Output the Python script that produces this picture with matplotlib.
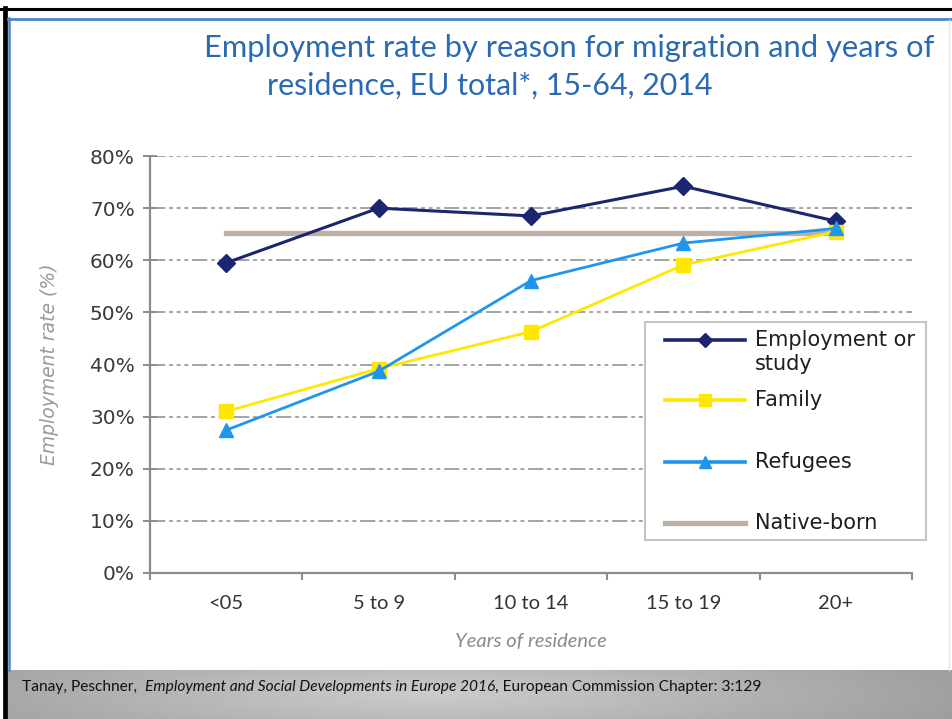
import numpy as np
import matplotlib
matplotlib.use("Agg")
import matplotlib.pyplot as plt
from matplotlib.lines import Line2D
from matplotlib.patches import Rectangle

# ---------------- data ----------------
categories = ["<05", "5 to 9", "10 to 14", "15 to 19", "20+"]
employment_or_study = [59.5, 70.0, 68.5, 74.2, 67.5]
family = [31.0, 39.2, 46.3, 59.1, 65.5]
refugees = [27.4, 38.7, 56.1, 63.3, 66.1]
native_born = [65.3, 65.3, 65.3, 65.3, 65.3]
y_ticks = [0, 10, 20, 30, 40, 50, 60, 70, 80]
y_tick_labels = ["0%", "10%", "20%", "30%", "40%", "50%", "60%", "70%", "80%"]
series_names = ["Employment or\nstudy", "Family", "Refugees", "Native-born"]

title_line1 = "Employment rate by reason for migration and years of"
title_line2 = "residence, EU total*, 15-64, 2014"
footer_parts = ["Tanay, Peschner,  ",
                "Employment and Social Developments in Europe 2016",
                ", European Commission Chapter: 3:129"]

# ---------------- layout ----------------
W, H = 952, 719
fig = plt.figure(figsize=(W / 100, H / 100), dpi=100)
fig.patch.set_facecolor("white")


def P(x, y):
    return (x / W, 1 - y / H)


# footer gradient band
band = fig.add_axes([7 / W, 0, (W - 7) / W, 49 / H])
gx = np.linspace(-1, 1, 400)
gy = np.linspace(-1, 1, 60)
GX, GY = np.meshgrid(gx, gy)
r = np.sqrt(((GX + 0.1) / 1.1) ** 2 + (GY / 2.5) ** 2)
vals = 0.80 - 0.17 * np.clip(r, 0, 1.2)
band.imshow(np.dstack([vals, vals, vals]), aspect="auto", extent=[0, 1, 0, 1],
            interpolation="bilinear")
band.set_xlim(0, 1)
band.set_ylim(0, 1)
band.axis("off")

# border lines
fig.add_artist(Line2D([0, 1], [1 - 9 / H, 1 - 9 / H], color="black", lw=2.2,
                      transform=fig.transFigure))
fig.add_artist(Line2D([5 / W, 5 / W], [0, 1 - 8 / H], color="black", lw=3.4,
                      transform=fig.transFigure))
fig.add_artist(Line2D([8 / W, 1], [1 - 18.5 / H, 1 - 18.5 / H], color="#4a86c8",
                      lw=2.0, transform=fig.transFigure))
fig.add_artist(Line2D([9 / W, 9 / W], [49 / H, 1 - 18 / H], color="#4a86c8",
                      lw=1.8, transform=fig.transFigure))
fig.add_artist(Line2D([949 / W, 949 / W], [49 / H, 1 - 20 / H], color="#e6e6e6",
                      lw=1.0, transform=fig.transFigure))

# main axes
ax = fig.add_axes([150 / W, (H - 573) / H, 762 / W, 417 / H])
x = np.arange(len(categories))

line_kw = dict(solid_joinstyle="round", clip_on=False)
ax.plot(x, native_born, color="#beafa5", lw=3.8, zorder=3, **line_kw)
ax.plot(x, employment_or_study, color="#1b2670", lw=2.2, marker="D", ms=9,
        zorder=4, **line_kw)
ax.plot(x, family, color="#ffe800", lw=2.0, marker="s", ms=10.5, zorder=5,
        **line_kw)
ax.plot(x, refugees, color="#1e96f0", lw=2.0, marker="^", ms=10.5, zorder=6,
        **line_kw)

ax.set_xlim(-0.5, len(categories) - 0.5)
ax.set_ylim(0, 80)
ax.set_yticks(y_ticks)
ax.set_yticklabels(y_tick_labels)
ax.set_xticks(x)
ax.set_xticklabels(categories)
ax.set_xticks(np.arange(-0.5, len(categories)), minor=True)

for v in y_ticks[1:]:
    ax.axhline(v, color="#8a8a8a", lw=1.1, dashes=(10, 2.5, 2.5, 2.5, 2.5, 2.5, 2.5, 2.5),
               zorder=1)

for s in ["top", "right"]:
    ax.spines[s].set_visible(False)
for s in ["left", "bottom"]:
    ax.spines[s].set_color("#8c8c8c")
    ax.spines[s].set_linewidth(1.6)

ax.tick_params(axis="y", which="major", direction="inout", length=10, width=1.4,
               color="#8c8c8c", pad=6, labelsize=14.5, labelcolor="#3a3a3a")
ax.tick_params(axis="x", which="major", length=0, pad=16, labelsize=14.5,
               labelcolor="#333333")
ax.tick_params(axis="x", which="minor", direction="out", length=5, width=1.5,
               color="#8c8c8c")
for t in ax.get_yticklabels():
    t.set_fontfamily("DejaVu Sans")
for t in ax.get_xticklabels():
    t.set_fontfamily("Lato")

ax.set_ylabel("Employment rate (%)", fontsize=13.5, style="italic",
              color="#9a9a9a", family="DejaVu Sans")
ax.yaxis.set_label_coords(-0.12, 0.5)
ax.set_xlabel("Years of residence", fontsize=14.5, style="italic",
              color="#8a8a8a", family="Lato")
ax.xaxis.set_label_coords(0.5, -0.145)

# legend (manual, figure coordinates)
fig.add_artist(Rectangle(P(645, 540), 281 / W, 218 / H, transform=fig.transFigure,
                         facecolor="white", edgecolor="#c4c4c4", lw=1.5, zorder=10))
leg_specs = [
    (series_names[0], "#1b2670", 2.6, "D", 7, 340, 351.5),
    (series_names[1], "#ffe800", 2.6, "s", 8.5, 400, 400),
    (series_names[2], "#1e96f0", 2.6, "^", 8, 462, 462),
    (series_names[3], "#beafa5", 3.8, None, 0, 523, 523),
]
for name, col, lw, mk, ms, yh, yt in leg_specs:
    x0, y0 = P(665, yh)
    x1, _ = P(745, yh)
    fig.add_artist(Line2D([x0, x1], [y0, y0], color=col, lw=lw,
                          transform=fig.transFigure, zorder=11))
    if mk:
        fig.add_artist(Line2D([(x0 + x1) / 2], [y0], color=col, marker=mk, ms=ms,
                              lw=0, transform=fig.transFigure, zorder=12))
    tx, ty = P(755, yt)
    fig.text(tx, ty, name, fontsize=15, color="#1e1e1e", va="center", ha="left",
             linespacing=1.25, zorder=12, family="DejaVu Sans")

# title
renderer = fig.canvas.get_renderer()


def fit_text(xl, yb, s, target_w, size, **kw):
    t = fig.text(*P(xl, yb), s, fontsize=size, va="baseline", ha="left", **kw)
    w = t.get_window_extent(renderer=renderer).width
    t.set_fontsize(size * target_w / w)
    return t


title_kw = dict(color="#2a6ab3", family="Lato")
t1 = fit_text(204, 57, title_line1, 731, 20, **title_kw)
t2 = fit_text(267, 95, title_line2, 446, 20, **title_kw)

# footer
fx = 22
f_size = 11.2
styles = ["normal", "italic", "normal"]
for s, st in zip(footer_parts, styles):
    t = fig.text(*P(fx, 691), s, fontsize=f_size, style=st, color="#111111",
                 va="baseline", ha="left", family="Lato")
    fx += t.get_window_extent(renderer=renderer).width

fig.savefig("out.png", dpi=100, facecolor="white")
